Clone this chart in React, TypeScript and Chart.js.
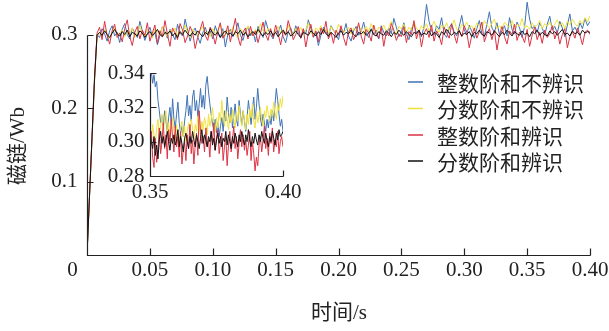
import React, { useEffect, useRef } from 'react';
import { Chart, registerables } from 'chart.js';

Chart.register(...registerables);

// ---------- data ----------
const SERIES_LABELS = ['整数阶和不辨识', '分数阶和不辨识', '整数阶和辨识', '分数阶和辨识'];
const SERIES_COLORS = ['#3f72b5', '#efe13a', '#dc3344', '#111111'];

const X_TITLE = '时间/s';
const Y_TITLE = '磁链/Wb';

const MAIN_X_MIN = 0;
const MAIN_X_MAX = 0.4;
const MAIN_Y_MIN = 0;
const MAIN_Y_MAX = 0.347;
const MAIN_STEP = 0.002; // sampling interval (s) of the main-plot series
const MAIN_X_TICKS = [0.05, 0.1, 0.15, 0.2, 0.25, 0.3, 0.35, 0.4];
const MAIN_X_TICK_LABELS = ['0.05', '0.10', '0.15', '0.20', '0.25', '0.30', '0.35', '0.40'];
const MAIN_Y_TICKS = [0.1, 0.2, 0.3];
const MAIN_Y_TICK_LABELS = ['0.1', '0.2', '0.3'];
const ORIGIN_LABEL = '0';

const mainBlue = [
  0, 0.079, 0.158, 0.237, 0.3,
  .296,.308,.301,.291,.305,.312,.298,.303,.289,.307,
  .315,.300,.294,.309,.302,.296,.318,.305,.292,.301,
  .310,.297,.303,.286,.299,.311,.304,.295,.307,.300,
  .293,.314,.302,.298,.321,.306,.291,.303,.309,.297,
  .288,.302,.310,.299,.305,.294,.312,.301,.296,.308,
  .283,.300,.307,.297,.303,.316,.299,.292,.305,.310,
  .298,.304,.290,.311,.302,.296,.319,.307,.300,.294,
  .306,.301,.313,.297,.289,.304,.309,.298,.312,.303,
  .295,.307,.301,.320,.308,.296,.303,.285,.299,.310,
  .304,.297,.312,.306,.300,.293,.309,.302,.315,.298,
  .291,.305,.311,.299,.304,.317,.302,.296,.308,.300,
  .306,.294,.312,.303,.298,.309,.301,.322,.310,.297,
  .304,.316,.300,.293,.308,.314,.302,.306,.297,.311,
  .341,.318,.305,.299,.312,.307,.323,.301,.296,.309,
  .315,.303,.298,.311,.326,.306,.300,.313,.304,.295,
  .308,.319,.302,.297,.314,.331,.309,.303,.316,.300,
  .305,.312,.298,.323,.307,.301,.317,.309,.296,.311,
  .344,.321,.308,.312,.303,.316,.309,.299,.314,.325,
  .306,.311,.302,.318,.309,.297,.313,.328,.305,.310,
  .303,.316,.308,.322,.312,.318,
];

const mainYellow = [
  0, 0.078, 0.157, 0.236, 0.297,
  .303,.298,.307,.300,.295,.304,.310,.299,.302,.306,
  .297,.305,.301,.309,.296,.303,.312,.300,.298,.307,
  .302,.295,.308,.304,.299,.311,.301,.297,.306,.303,
  .309,.298,.304,.300,.313,.302,.296,.307,.303,.299,
  .306,.311,.300,.304,.297,.308,.302,.305,.314,.301,
  .298,.306,.303,.310,.300,.296,.308,.304,.301,.312,
  .303,.299,.307,.302,.315,.305,.300,.309,.304,.298,
  .306,.311,.302,.307,.300,.313,.304,.299,.308,.305,
  .310,.301,.306,.316,.303,.298,.309,.305,.312,.302,
  .307,.300,.311,.305,.302,.314,.308,.303,.306,.310,
  .301,.309,.305,.312,.307,.300,.311,.304,.315,.306,
  .302,.310,.307,.313,.304,.309,.318,.305,.301,.311,
  .308,.314,.303,.310,.306,.317,.309,.304,.312,.307,
  .315,.305,.311,.318,.308,.303,.313,.309,.316,.306,
  .311,.320,.307,.304,.314,.310,.317,.308,.312,.305,
  .316,.311,.307,.319,.313,.309,.315,.321,.308,.312,
  .306,.317,.313,.310,.319,.308,.314,.311,.322,.309,
  .312,.307,.316,.310,.313,.319,.308,.315,.311,.317,
  .309,.314,.320,.311,.316,.308,.318,.313,.321,.315,
  .311,.319,.314,.323,.317,.326,
];

const mainRed = [
  0, 0.081, 0.162, 0.243, 0.302,
  .310,.293,.318,.299,.287,.305,.314,.296,.302,.290,
  .308,.320,.297,.285,.303,.311,.294,.306,.299,.316,
  .291,.302,.313,.288,.305,.297,.319,.300,.284,.309,
  .302,.293,.315,.306,.289,.298,.311,.303,.281,.296,
  .307,.318,.299,.292,.310,.301,.287,.304,.316,.295,
  .300,.312,.290,.306,.322,.297,.285,.303,.309,.294,
  .311,.298,.305,.289,.302,.317,.300,.292,.308,.296,
  .313,.301,.286,.304,.299,.319,.307,.293,.300,.311,
  .295,.308,.283,.302,.314,.297,.305,.290,.309,.301,
  .318,.294,.303,.288,.306,.299,.312,.296,.285,.304,
  .309,.293,.301,.316,.298,.287,.307,.302,.291,.313,
  .300,.295,.310,.284,.303,.298,.315,.306,.292,.301,
  .297,.311,.289,.304,.300,.319,.294,.306,.283,.302,
  .308,.296,.313,.291,.305,.299,.286,.310,.302,.295,
  .314,.300,.288,.306,.297,.312,.303,.282,.299,.309,
  .295,.304,.317,.290,.301,.308,.293,.306,.279,.300,
  .311,.297,.287,.305,.300,.314,.292,.303,.298,.289,
  .307,.284,.299,.310,.293,.303,.288,.306,.296,.301,
  .312,.294,.305,.287,.300,.308,.282,.297,.304,.295,
  .309,.299,.286,.303,.306,.300,
];

const mainBlack = [
  0, 0.08, 0.16, 0.24, 0.299,
  .303,.299,.305,.300,.296,.302,.307,.301,.298,.304,
  .300,.306,.297,.303,.301,.298,.305,.302,.296,.301,
  .304,.299,.302,.307,.300,.297,.303,.301,.305,.298,
  .302,.296,.304,.300,.306,.301,.298,.303,.299,.305,
  .301,.297,.303,.300,.308,.302,.299,.304,.296,.301,
  .305,.300,.302,.298,.304,.301,.306,.299,.303,.297,
  .301,.304,.300,.307,.302,.298,.303,.300,.305,.299,
  .303,.297,.302,.306,.300,.304,.298,.301,.305,.300,
  .296,.303,.301,.299,.305,.302,.298,.304,.300,.307,
  .301,.298,.303,.300,.296,.302,.305,.299,.303,.301,
  .306,.300,.297,.303,.301,.304,.299,.302,.307,.300,
  .298,.304,.301,.299,.305,.302,.297,.303,.300,.306,
  .302,.299,.304,.300,.297,.303,.301,.306,.299,.302,
  .300,.305,.298,.303,.301,.296,.304,.300,.307,.302,
  .299,.303,.301,.305,.298,.302,.300,.304,.297,.303,
  .301,.306,.300,.298,.304,.302,.299,.305,.301,.297,
  .303,.300,.306,.302,.298,.304,.301,.299,.305,.300,
  .302,.297,.304,.301,.306,.299,.303,.300,.298,.305,
  .301,.304,.299,.303,.307,.300,.302,.298,.305,.301,
  .303,.299,.306,.302,.304,.303,
];

// inset (zoom on 0.35 – 0.40 s)
const INSET_X_MIN = 0.35;
const INSET_X_MAX = 0.4;
const INSET_Y_MIN = 0.28;
const INSET_Y_MAX = 0.34;
const INSET_STEP = 0.0005;
const INSET_X_TICKS = [0.35, 0.4];
const INSET_X_TICK_LABELS = ['0.35', '0.40'];
const INSET_Y_TICKS = [0.28, 0.3, 0.32, 0.34];
const INSET_Y_TICK_LABELS = ['0.28', '0.30', '0.32', '0.34'];

const insetBlue = [
  .337,.341,.334,.339,.332,.335,.324,.318,.311,.315,
  .309,.318,.312,.306,.314,.320,.310,.325,.313,.308,
  .316,.323,.311,.305,.309,.303,.312,.318,.327,.315,
  .321,.312,.326,.330,.318,.324,.314,.322,.331,.320,
  .327,.319,.333,.338,.329,.322,.316,.310,.307,.313,
  .305,.311,.303,.309,.314,.306,.318,.312,.326,.317,
  .311,.320,.308,.315,.322,.313,.309,.324,.316,.310,
  .318,.312,.306,.314,.324,.317,.310,.319,.326,.313,
  .320,.331,.322,.314,.309,.316,.311,.306,.313,.308,
  .315,.310,.318,.312,.322,.331,.324,.316,.309,.313,
  .306,
];

const insetYellow = [
  .306,.301,.310,.304,.298,.308,.313,.303,.309,.316,
  .307,.312,.318,.305,.311,.302,.309,.314,.306,.301,
  .310,.304,.298,.307,.312,.303,.309,.300,.306,.311,
  .304,.313,.308,.301,.310,.306,.315,.309,.303,.312,
  .307,.314,.310,.304,.316,.309,.313,.320,.311,.306,
  .314,.308,.317,.312,.324,.315,.309,.318,.313,.307,
  .316,.311,.319,.313,.308,.317,.312,.321,.314,.309,
  .318,.313,.307,.316,.310,.319,.314,.322,.312,.308,
  .317,.311,.315,.320,.313,.309,.318,.314,.321,.316,
  .312,.319,.315,.323,.317,.313,.321,.318,.325,.320,
  .327,
];

const insetRed = [
  .298,.306,.291,.285,.302,.288,.295,.308,.293,.300,
  .311,.296,.304,.290,.307,.299,.313,.302,.294,.309,
  .297,.303,.291,.306,.287,.295,.300,.289,.304,.296,
  .310,.293,.301,.287,.298,.305,.292,.318,.306,.299,
  .303,.294,.308,.297,.301,.291,.306,.300,.311,.295,
  .302,.307,.293,.299,.305,.289,.297,.303,.286,.298,
  .306,.294,.301,.309,.296,.303,.290,.299,.307,.297,
  .304,.295,.301,.292,.298,.306,.289,.300,.293,.283,
  .291,.286,.298,.303,.294,.301,.309,.296,.302,.292,
  .305,.299,.308,.294,.301,.297,.306,.293,.300,.303,
  .297,
];

const insetBlack = [
  .305,.300,.296,.303,.292,.298,.290,.301,.306,.299,
  .303,.297,.301,.306,.300,.295,.302,.299,.304,.298,
  .301,.307,.297,.303,.299,.294,.302,.305,.300,.296,
  .303,.299,.306,.301,.297,.304,.300,.296,.302,.307,
  .299,.304,.301,.297,.303,.300,.306,.298,.302,.295,
  .301,.305,.299,.303,.297,.302,.300,.306,.298,.304,
  .300,.296,.303,.299,.305,.301,.297,.304,.300,.306,
  .302,.298,.304,.300,.307,.301,.297,.303,.299,.305,
  .301,.298,.304,.300,.306,.302,.299,.305,.301,.297,
  .303,.300,.306,.302,.298,.305,.301,.307,.303,.304,
  .306,
];

// ---------- helpers ----------
const MAIN_SERIES = [mainBlue, mainYellow, mainRed, mainBlack];
const INSET_SERIES = [insetBlue, insetYellow, insetRed, insetBlack];
const DRAW_ORDER = [4, 3, 2, 1]; // black drawn on top

const TICK_FONT = '21px "Liberation Serif", "DejaVu Serif", serif';
const TITLE_FONT = '21px "Liberation Serif", "Noto Sans CJK SC", serif';
const LEGEND_FONT = '21px "Noto Sans CJK SC", sans-serif';

function toPoints(values: number[], start: number, step: number) {
  return values.map((y, i) => ({ x: start + i * step, y }));
}

function makeDatasets(series: number[][], start: number, step: number) {
  return series.map((vals, i) => ({
    label: SERIES_LABELS[i],
    data: toPoints(vals, start, step),
    borderColor: SERIES_COLORS[i],
    borderWidth: 1,
    pointRadius: 0,
    tension: 0,
    order: DRAW_ORDER[i],
  }));
}

const r = (v: number) => Math.round(v) + 0.5;

const mainAxesPlugin = {
  id: 'mainAxes',
  afterDraw(chart: any) {
    const ctx = chart.ctx;
    const xs = chart.scales.x;
    const ys = chart.scales.y;
    const x0 = r(xs.getPixelForValue(MAIN_X_MIN));
    const x1 = r(xs.getPixelForValue(MAIN_X_MAX));
    const y0 = r(ys.getPixelForValue(MAIN_Y_MIN));
    const yTop = r(ys.getPixelForValue(MAIN_Y_TICKS[MAIN_Y_TICKS.length - 1]));
    ctx.save();
    ctx.strokeStyle = '#222';
    ctx.lineWidth = 1.2;
    ctx.beginPath();
    ctx.moveTo(x0, yTop);
    ctx.lineTo(x0, y0);
    ctx.lineTo(x1, y0);
    MAIN_X_TICKS.forEach((t) => {
      const px = r(xs.getPixelForValue(t));
      ctx.moveTo(px, y0);
      ctx.lineTo(px, y0 - 7);
    });
    MAIN_Y_TICKS.forEach((t) => {
      const py = r(ys.getPixelForValue(t));
      ctx.moveTo(x0, py);
      ctx.lineTo(x0 + 6, py);
    });
    ctx.stroke();

    ctx.fillStyle = '#222';
    ctx.font = TICK_FONT;
    ctx.textAlign = 'center';
    ctx.textBaseline = 'middle';
    MAIN_X_TICKS.forEach((t, i) => {
      ctx.fillText(MAIN_X_TICK_LABELS[i], xs.getPixelForValue(t), y0 + 15);
    });
    ctx.fillText(ORIGIN_LABEL, x0 - 15, y0 + 15);
    ctx.textAlign = 'right';
    MAIN_Y_TICKS.forEach((t, i) => {
      ctx.fillText(MAIN_Y_TICK_LABELS[i], x0 - 10, ys.getPixelForValue(t));
    });

    // axis titles
    ctx.font = TITLE_FONT;
    ctx.textAlign = 'center';
    ctx.fillText(X_TITLE, (x0 + x1) / 2, y0 + 58);
    ctx.save();
    ctx.translate(18, 146);
    ctx.rotate(-Math.PI / 2);
    ctx.fillText(Y_TITLE, 0, 0);
    ctx.restore();

    // legend
    ctx.font = LEGEND_FONT;
    ctx.textAlign = 'left';
    const rowY = [82, 108.5, 135, 161];
    SERIES_LABELS.forEach((lab, i) => {
      ctx.strokeStyle = SERIES_COLORS[i];
      ctx.lineWidth = 1.5;
      ctx.beginPath();
      ctx.moveTo(408, rowY[i]);
      ctx.lineTo(423, rowY[i]);
      ctx.stroke();
      ctx.fillStyle = '#222';
      ctx.fillText(lab, 437, rowY[i] + 1);
    });
    ctx.restore();
  },
};

const insetAxesPlugin = {
  id: 'insetAxes',
  afterDraw(chart: any) {
    const ctx = chart.ctx;
    const xs = chart.scales.x;
    const ys = chart.scales.y;
    const x0 = r(xs.getPixelForValue(INSET_X_MIN));
    const x1 = r(xs.getPixelForValue(INSET_X_MAX));
    const y0 = r(ys.getPixelForValue(INSET_Y_MIN));
    const yTop = r(ys.getPixelForValue(INSET_Y_MAX));
    ctx.save();
    ctx.strokeStyle = '#222';
    ctx.lineWidth = 1.2;
    ctx.beginPath();
    ctx.moveTo(x0, yTop);
    ctx.lineTo(x0, y0);
    ctx.lineTo(x1, y0);
    INSET_X_TICKS.forEach((t) => {
      const px = r(xs.getPixelForValue(t));
      ctx.moveTo(px, y0);
      ctx.lineTo(px, y0 - 6);
    });
    INSET_Y_TICKS.forEach((t) => {
      const py = r(ys.getPixelForValue(t));
      ctx.moveTo(x0, py);
      ctx.lineTo(x0 + 6, py);
    });
    ctx.stroke();
    ctx.fillStyle = '#222';
    ctx.font = TICK_FONT;
    ctx.textAlign = 'center';
    ctx.textBaseline = 'middle';
    INSET_X_TICKS.forEach((t, i) => {
      ctx.fillText(INSET_X_TICK_LABELS[i], xs.getPixelForValue(t), y0 + 16);
    });
    ctx.textAlign = 'right';
    INSET_Y_TICKS.forEach((t, i) => {
      ctx.fillText(INSET_Y_TICK_LABELS[i], x0 - 6, ys.getPixelForValue(t));
    });
    ctx.restore();
  },
};

export default function App() {
  const mainRef = useRef<HTMLCanvasElement>(null);
  const insetRef = useRef<HTMLCanvasElement>(null);

  useEffect(() => {
    document.body.style.margin = '0';
    const common = {
      animation: false as const,
      responsive: false,
      maintainAspectRatio: false,
      devicePixelRatio: 1,
      plugins: { legend: { display: false }, tooltip: { enabled: false } },
      elements: { point: { radius: 0 }, line: { borderWidth: 1 } },
    };
    const main = new Chart(mainRef.current as HTMLCanvasElement, {
      type: 'line',
      data: { datasets: makeDatasets(MAIN_SERIES, MAIN_X_MIN, MAIN_STEP) as any },
      options: {
        ...common,
        layout: { padding: { left: 87, right: 19, top: 0, bottom: 76 } },
        scales: {
          x: { type: 'linear', display: false, min: MAIN_X_MIN, max: MAIN_X_MAX },
          y: { type: 'linear', display: false, min: MAIN_Y_MIN, max: MAIN_Y_MAX },
        },
      } as any,
      plugins: [mainAxesPlugin],
    });
    const inset = new Chart(insetRef.current as HTMLCanvasElement, {
      type: 'line',
      data: { datasets: makeDatasets(INSET_SERIES, INSET_X_MIN, INSET_STEP) as any },
      options: {
        ...common,
        layout: { padding: { left: 55, right: 22, top: 18, bottom: 29 } },
        scales: {
          x: { type: 'linear', display: false, min: INSET_X_MIN, max: INSET_X_MAX },
          y: { type: 'linear', display: false, min: INSET_Y_MIN, max: INSET_Y_MAX },
        },
      } as any,
      plugins: [insetAxesPlugin],
    });
    let alive = true;
    const fonts: any = (document as any).fonts;
    if (fonts && fonts.load) {
      Promise.all([
        fonts.load('21px "Liberation Serif"', '0.123456789'),
        fonts.load('21px "Noto Sans CJK SC"', '时间磁链整数阶和不辨识分'),
      ]).then(() => {
        if (alive) {
          main.draw();
          inset.draw();
        }
      }).catch(() => {});
    }
    return () => {
      alive = false;
      main.destroy();
      inset.destroy();
    };
  }, []);

  return (
    <div style={{ position: 'relative', width: 609, height: 331, background: '#fff' }}>
      <canvas ref={mainRef} width={609} height={331} style={{ position: 'absolute', left: 0, top: 0 }} />
      <canvas ref={insetRef} width={210} height={150} style={{ position: 'absolute', left: 95, top: 55 }} />
    </div>
  );
}
